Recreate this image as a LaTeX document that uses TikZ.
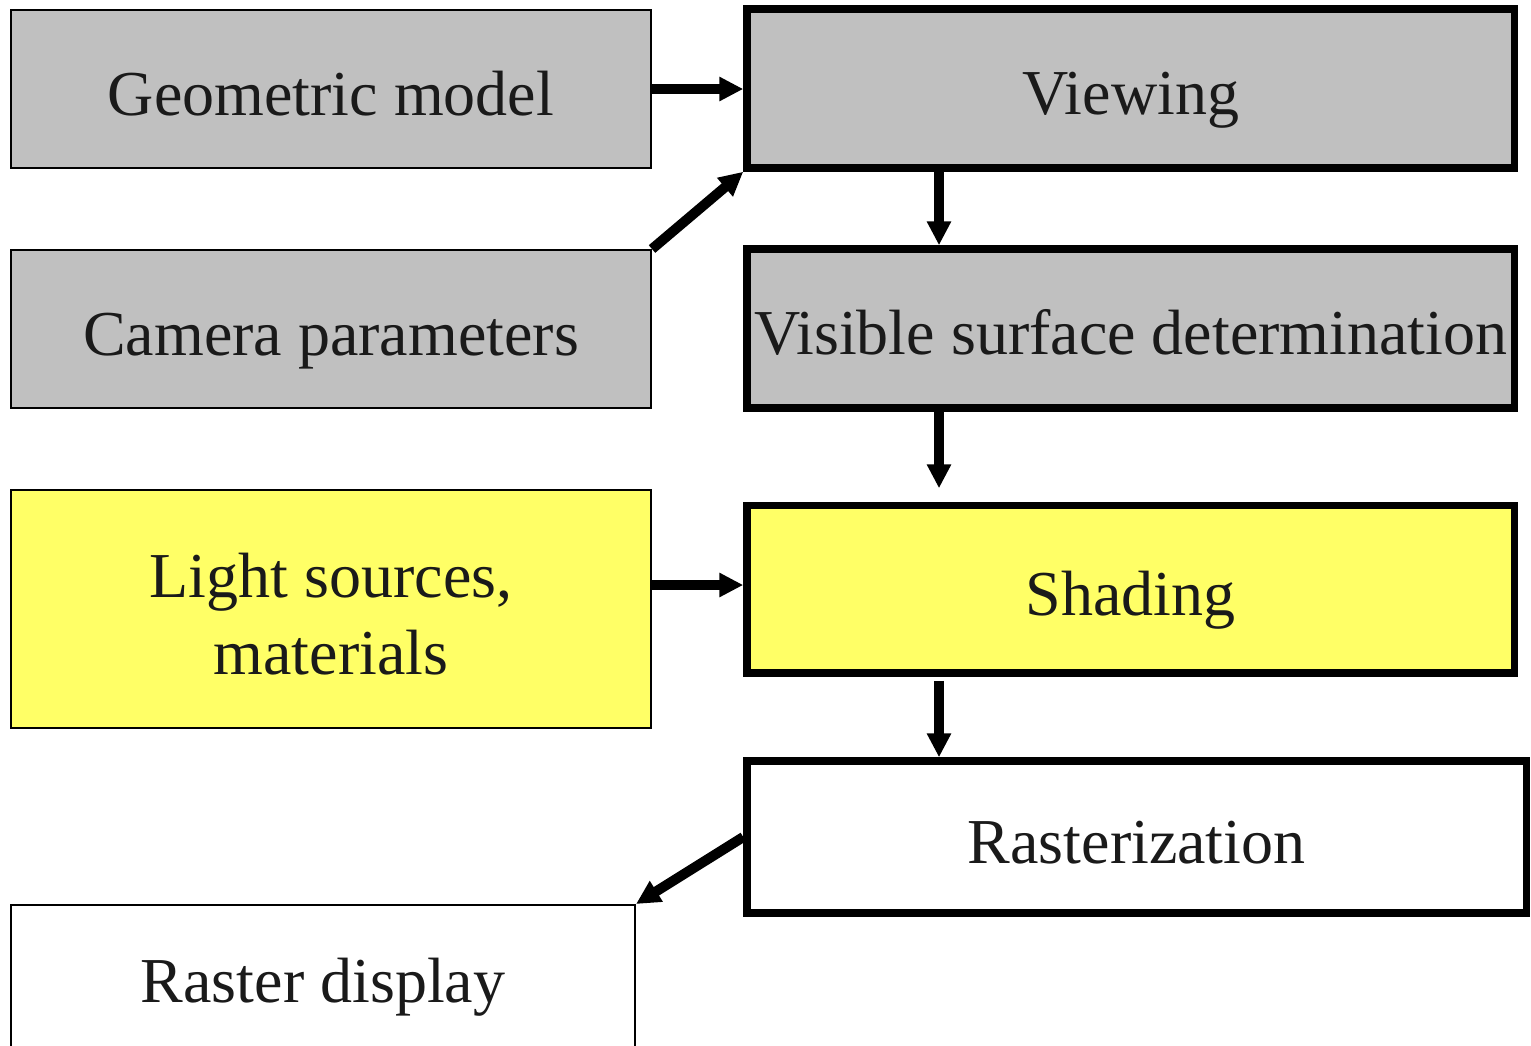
\documentclass[tikz,border=0pt]{standalone}
\usepackage{fontspec}
\setmainfont{Liberation Serif}
\usetikzlibrary{arrows.meta,calc}
\definecolor{boxgray}{HTML}{C0C0C0}
\definecolor{boxyellow}{HTML}{FFFF66}
\definecolor{txt}{HTML}{1A1A1A}
\newcommand{\lowerline}[1]{\raisebox{-2.5pt}[\height][\depth]{#1}}
\begin{document}
\begin{tikzpicture}[x=0.5pt,y=-0.5pt,
  thinbox/.style={draw=black, line width=1pt, inner sep=0pt, text=txt,
    font=\fontsize{32pt}{38.5pt}\selectfont},
  oneline/.style={text height=26pt, text depth=0pt},
  thickbox/.style={thinbox, oneline, line width=3.75pt},
  flow/.style={line width=5pt, -{Triangle[length=12pt,width=11.5pt]}},
]
\useasboundingbox (0,0) rectangle (1531,1045);
\fill[white] (0,0) rectangle (1531,1045);
\clip (0,0) rectangle (1531,1045);

% left column
\node[thinbox, oneline, fill=boxgray, minimum width=320pt, minimum height=79pt] (G) at (331,89) {Geometric model};
\node[thinbox, oneline, fill=boxgray, minimum width=320pt, minimum height=79pt] (C) at (331,329) {Camera parameters};
\node[thinbox, fill=boxyellow, minimum width=320pt, minimum height=119pt, align=center] (L) at (331,609) {\lowerline{Light sources,}\\\lowerline{materials}};
\node[thinbox, oneline, fill=white, minimum width=312pt, minimum height=71pt] (RD) at (323,976) {Raster display};

% right column
\node[thickbox, fill=boxgray, minimum width=383.75pt, minimum height=79.5pt] (V) at (1130.75,88.5) {Viewing};
\node[thickbox, fill=boxgray, minimum width=383.75pt, minimum height=79.5pt] (VSD) at (1130.75,328.5) {Visible surface determination};
\node[thickbox, fill=boxyellow, minimum width=383.75pt, minimum height=83.75pt] (S) at (1130.75,589.25) {Shading};
\node[thickbox, fill=white, minimum width=389.65pt, minimum height=76pt] (R) at (1136.65,837) {Rasterization};

\coordinate (ax) at (939,0);

% connectors
\draw[flow] (G.east) -- (G.east -| V.west);
\draw[flow] (C.north east) -- (V.south west);
\draw[flow] (V.south -| ax) -- (VSD.north -| ax);
\draw[flow, shorten >=6.75pt] (VSD.south -| ax) -- (S.north -| ax);
\draw[flow] ([yshift=12pt]L.east) -- ([yshift=12pt]L.east -| S.west);
\draw[flow, shorten <=2pt] (S.south -| ax) -- (R.north -| ax);
\draw[flow] (R.west) -- (RD.north east);
\end{tikzpicture}
\end{document}
